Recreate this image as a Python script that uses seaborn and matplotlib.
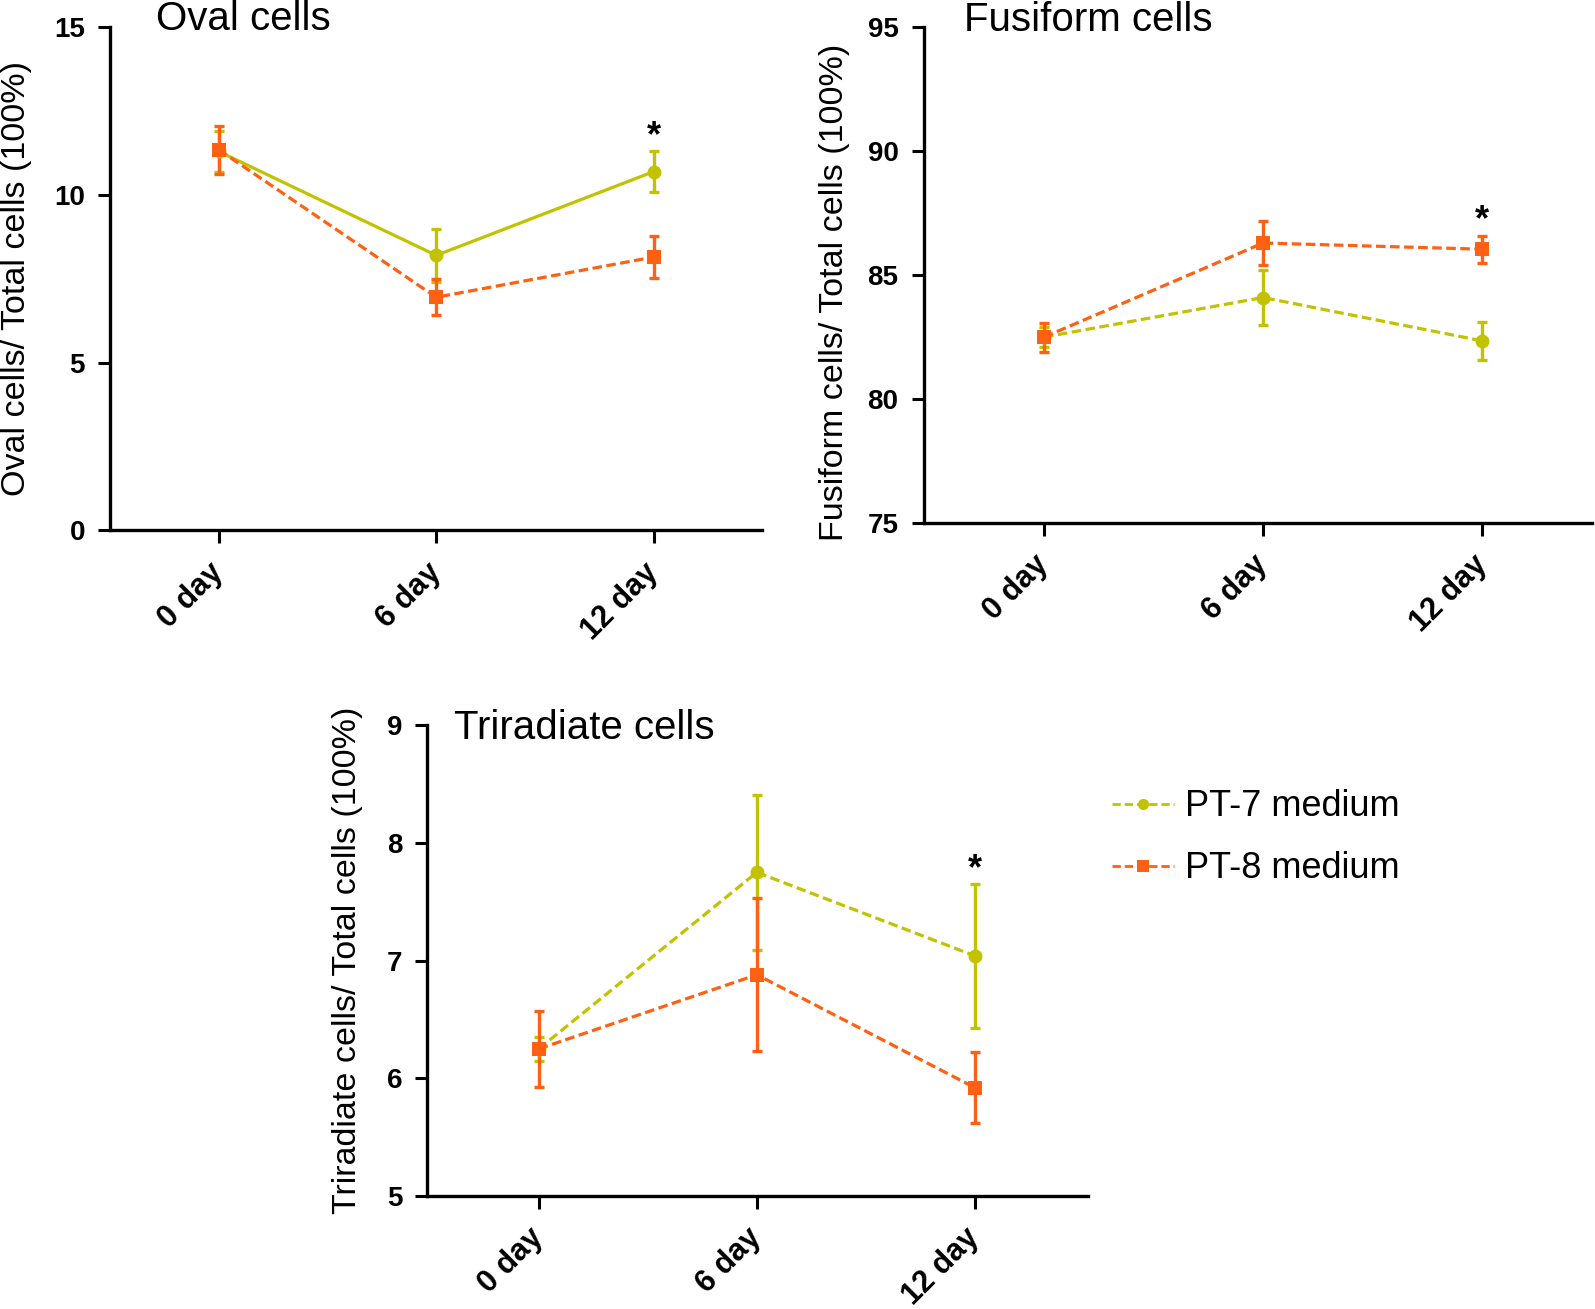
import numpy as np
import pandas as pd
import matplotlib
matplotlib.use("Agg")
import matplotlib.pyplot as plt
import seaborn as sns
from matplotlib.lines import Line2D

# --- data ---
days = ["0 day", "6 day", "12 day"]
groups = ["PT-7 medium", "PT-8 medium"]

oval_pt7 = [11.3, 8.2, 10.7]
oval_pt7_err = [0.6, 0.8, 0.6]
oval_pt8 = [11.35, 6.95, 8.15]
oval_pt8_err = [0.72, 0.53, 0.63]

fusi_pt7 = [82.5, 84.1, 82.35]
fusi_pt7_err = [0.4, 1.1, 0.77]
fusi_pt8 = [82.5, 86.3, 86.05]
fusi_pt8_err = [0.58, 0.9, 0.55]

tri_pt7 = [6.25, 7.75, 7.04]
tri_pt7_err = [0.1, 0.66, 0.61]
tri_pt8 = [6.25, 6.88, 5.92]
tri_pt8_err = [0.32, 0.65, 0.3]

colors = {"PT-7 medium": "#c2c200", "PT-8 medium": "#ff6011"}
markers = {"PT-7 medium": "o", "PT-8 medium": "s"}
DASH = (3, 1.4)

sns.set_style("ticks")
plt.rcParams["font.family"] = ["Liberation Sans", "DejaVu Sans"]
for k in ["text.color", "axes.labelcolor", "xtick.color", "ytick.color", "axes.edgecolor"]:
    plt.rcParams[k] = "black"


def make_df(pt7, pt7_err, pt8, pt8_err):
    rows = []
    for g, vals, errs in [(groups[0], pt7, pt7_err), (groups[1], pt8, pt8_err)]:
        for i, d in enumerate(days):
            rows.append({"day": d, "pos": i, "group": g, "value": vals[i], "err": errs[i]})
    return pd.DataFrame(rows)


def panel(ax, df, title, title_xy, ylabel, ylim, yticks, xlim, pt7_solid, label_xy):
    dashes = {groups[0]: "" if pt7_solid else DASH, groups[1]: DASH}
    for g in groups:
        sub = df[df["group"] == g]
        ax.errorbar(sub["pos"], sub["value"], yerr=sub["err"], fmt="none",
                    ecolor=colors[g], elinewidth=2.4, capsize=3.5, capthick=2.4, zorder=2)
    sns.lineplot(data=df, x="pos", y="value", hue="group", style="group",
                 palette=colors, markers=markers, dashes=dashes, linewidth=2.3,
                 markersize=10, markeredgewidth=0, ax=ax, legend=False, zorder=3)
    # significance star above the highest error bar of the last day
    last = df[df["pos"] == 2]
    top = (last["value"] + last["err"]).max()
    ax.annotate("*", (2, top), xytext=(0, -2), textcoords="offset points",
                ha="center", va="bottom", fontsize=26, fontweight="bold")
    ax.set_xlim(*xlim)
    ax.set_ylim(*ylim)
    ax.set_yticks(yticks)
    ax.set_xticks(range(len(days)))
    ax.tick_params(axis="both", direction="out", length=9, width=2.2, labelsize=20)
    ax.tick_params(axis="y", pad=9)
    ax.tick_params(axis="x", pad=18)
    ax.set_xticklabels(days, rotation=45, ha="right", va="center",
                       rotation_mode="anchor", fontsize=22, fontweight="bold")
    ax.set_yticklabels([str(t) for t in yticks], fontsize=20, fontweight="bold")
    ax.set_xlabel("")
    ax.set_ylabel(ylabel, fontsize=24.5)
    ax.yaxis.set_label_coords(*label_xy)
    sns.despine(ax=ax)
    for s in ["left", "bottom"]:
        ax.spines[s].set_linewidth(2.4)
    ax.text(*title_xy, title, transform=ax.transAxes, fontsize=29,
            ha="left", va="center")


fig = plt.figure(figsize=(15.95, 13.09), dpi=100)
ax1 = fig.add_axes([0.069, 0.595, 0.409, 0.384])
ax2 = fig.add_axes([0.579, 0.6005, 0.419, 0.3785])
ax3 = fig.add_axes([0.268, 0.0863, 0.4144, 0.3597])

panel(ax1, make_df(oval_pt7, oval_pt7_err, oval_pt8, oval_pt8_err),
      "Oval cells", (0.07, 1.016), "Oval cells/ Total cells (100%)", (0, 15),
      [0, 5, 10, 15], (-0.5, 2.5), True, (-0.12, 0.5))
panel(ax2, make_df(fusi_pt7, fusi_pt7_err, fusi_pt8, fusi_pt8_err),
      "Fusiform cells", (0.061, 1.016), "Fusiform cells/ Total cells (100%)", (75, 95),
      [75, 80, 85, 90, 95], (-0.55, 2.5), False, (-0.11, 0.465))
panel(ax3, make_df(tri_pt7, tri_pt7_err, tri_pt8, tri_pt8_err),
      "Triradiate cells", (0.04, 0.995), "Triradiate cells/ Total cells (100%)", (5, 9),
      [5, 6, 7, 8, 9], (-0.51, 2.52), False, (-0.097, 0.5))

handles = [Line2D([], [], color=colors[g], marker=markers[g], linestyle=(0, DASH),
                  linewidth=2, markersize=9 if g == groups[1] else 8,
                  markeredgewidth=0) for g in groups]
fig.legend(handles, groups, loc="center left", bbox_to_anchor=(0.677, 0.36),
           frameon=False, fontsize=26, handlelength=1.7, labelspacing=0.75,
           handletextpad=0.3)

fig.savefig("out.png", dpi=100)
